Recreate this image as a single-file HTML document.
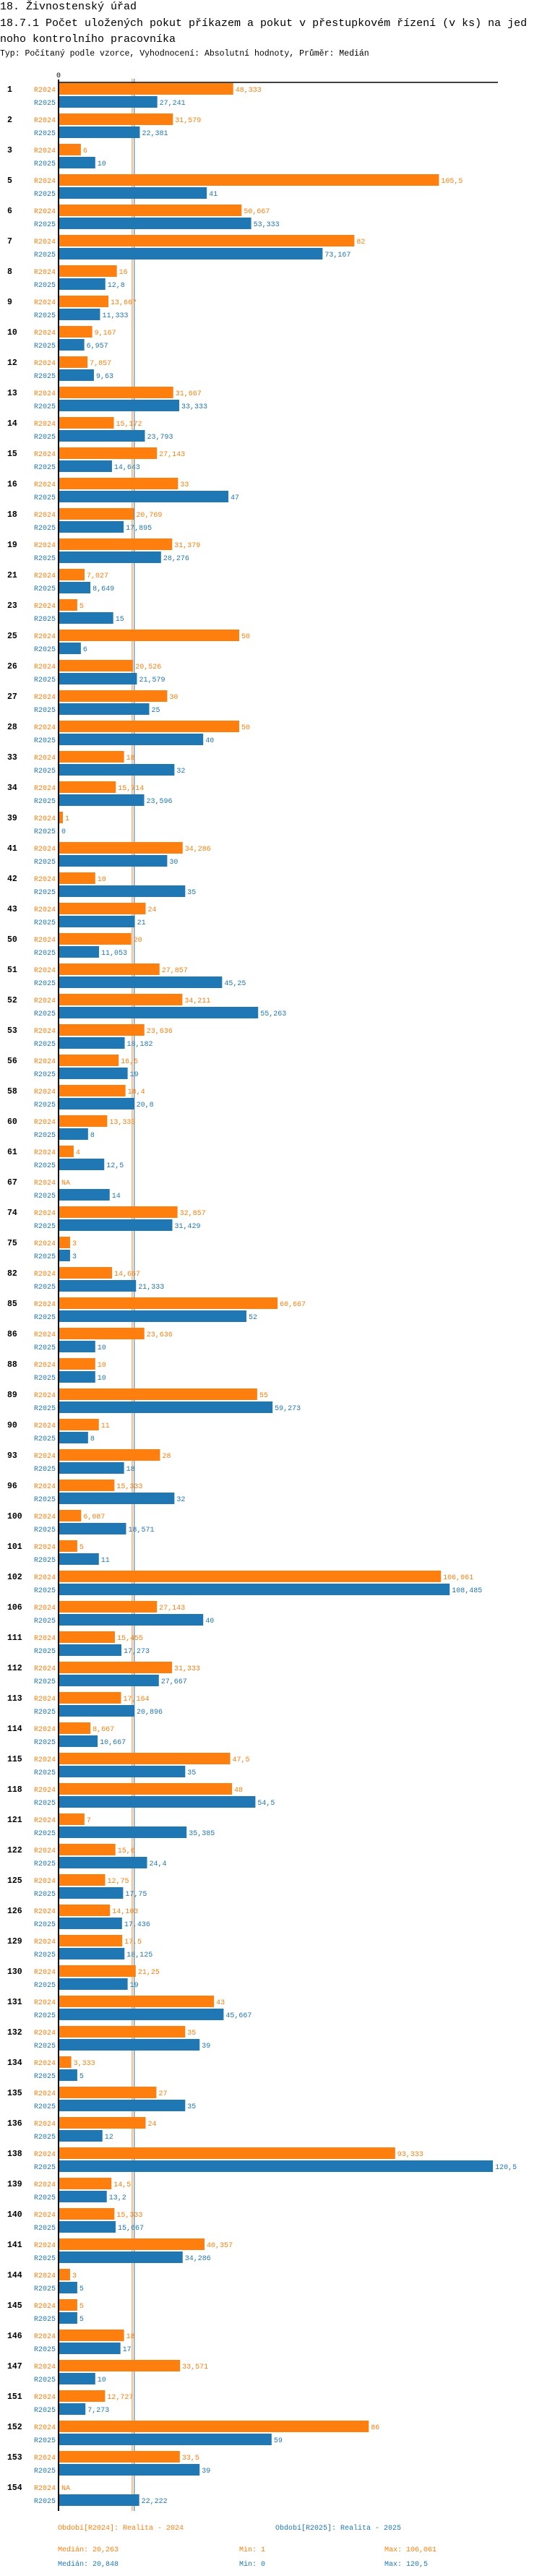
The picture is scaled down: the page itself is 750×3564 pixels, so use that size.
<!DOCTYPE html>
<html><head><meta charset="utf-8"><title>18.7.1</title>
<style>
html,body{margin:0;padding:0;background:#fff;}
svg{display:block;font-family:"Liberation Mono","DejaVu Sans Mono",monospace;}
</style></head>
<body>
<svg id="chart" width="750" height="3564" viewBox="0 0 750 3564" xmlns="http://www.w3.org/2000/svg">
<text x="0" y="13" font-size="15" fill="#000">18. Živnostenský úřad</text>
<text x="0" y="36" font-size="15" fill="#000">18.7.1 Počet uložených pokut příkazem a pokut v přestupkovém řízení (v ks) na jed</text>
<text x="0" y="58" font-size="15" fill="#000">noho kontrolního pracovníka</text>
<text x="0" y="77" font-size="11.5" fill="#000">Typ: Počítaný podle vzorce, Vyhodnocení: Absolutní hodnoty, Průměr: Medián</text>
<g id="plot"></g>
<g id="legend">
<text x="80" y="3500" font-size="10" fill="#ff7f0e">Období[R2024]: Realita - 2024</text>
<text x="381" y="3500" font-size="10" fill="#1f77b4">Období[R2025]: Realita - 2025</text>
<text x="80" y="3530" font-size="10" fill="#ff7f0e">Medián: 20,263</text>
<text x="331" y="3530" font-size="10" fill="#ff7f0e">Min: 1</text>
<text x="532" y="3530" font-size="10" fill="#ff7f0e">Max: 106,061</text>
<text x="80" y="3550" font-size="10" fill="#1f77b4">Medián: 20,848</text>
<text x="331" y="3550" font-size="10" fill="#1f77b4">Min: 0</text>
<text x="532" y="3550" font-size="10" fill="#1f77b4">Max: 120,5</text>
</g>
</svg>
<script>
const categories = [1,2,3,5,6,7,8,9,10,12,13,14,15,16,18,19,21,23,25,26,27,28,33,34,39,41,42,43,50,51,52,53,56,58,60,61,67,74,75,82,85,86,88,89,90,93,96,100,101,102,106,111,112,113,114,115,118,121,122,125,126,129,130,131,132,134,135,136,138,139,140,141,144,145,146,147,151,152,153,154];
const values2024 = [48.333,31.579,6,105.5,50.667,82,16,13.667,9.167,7.857,31.667,15.172,27.143,33,20.769,31.379,7.027,5,50,20.526,30,50,18,15.714,1,34.286,10,24,20,27.857,34.211,23.636,16.5,18.4,13.333,4,null,32.857,3,14.667,60.667,23.636,10,55,11,28,15.333,6.087,5,106.061,27.143,15.455,31.333,17.164,8.667,47.5,48,7,15.6,12.75,14.103,17.5,21.25,43,35,3.333,27,24,93.333,14.5,15.333,40.357,3,5,18,33.571,12.727,86,33.5,null];
const values2025 = [27.241,22.381,10,41,53.333,73.167,12.8,11.333,6.957,9.63,33.333,23.793,14.643,47,17.895,28.276,8.649,15,6,21.579,25,40,32,23.596,0,30,35,21,11.053,45.25,55.263,18.182,19,20.8,8,12.5,14,31.429,3,21.333,52,10,10,59.273,8,18,32,18.571,11,108.485,40,17.273,27.667,20.896,10.667,35,54.5,35.385,24.4,17.75,17.436,18.125,19,45.667,39,5,35,12,120.5,13.2,15.667,34.286,5,5,17,10,7.273,59,39,22.222];
const seriesNames = ["R2024","R2025"];
const axisTickLabels = ["0"];

const NS = "http://www.w3.org/2000/svg";
const plot = document.getElementById("plot");
const X0 = 82, PX = 4.98, TOP = 115, PITCH = 42, BH = 16;
const COLORS = ["#ff7f0e", "#1f77b4"];
function xScale(v){ return X0 + v * PX; }
function yScale(i){ return TOP + i * PITCH; }
function fmt(v){ return String(v).replace(".", ","); }
function median(a){ const s = a.filter(v => v !== null).slice().sort((p,q)=>p-q); const n = s.length; return n % 2 ? s[(n-1)/2] : (s[n/2-1] + s[n/2]) / 2; }
function mk(tag, attrs, txt){ const e = document.createElementNS(NS, tag); for (const k in attrs) e.setAttribute(k, attrs[k]); if (txt !== undefined) e.textContent = txt; plot.appendChild(e); return e; }

// median lines
const med = [median(values2024), median(values2025)];
med.forEach((m, s) => {
  const ln = mk("line", {x1: xScale(m), x2: xScale(m), y1: 109, y2: 3474, stroke: COLORS[s], "stroke-width": 1});
  
  
});

// axes
const tick = mk("text", {x: 81, y: 107, "font-size": 10, "text-anchor": "middle", fill: "#000"}, axisTickLabels[0]);


const hAxis = mk("line", {x1: 80, x2: 689, y1: 114, y2: 114, stroke: "#000", "stroke-width": 1.5});


const vAxis = mk("line", {x1: 81, x2: 81, y1: 110, y2: 3474, stroke: "#000", "stroke-width": 2});



categories.forEach((c, i) => {
  const gy = yScale(i);
  const lab = mk("text", {x: 10, y: gy + 12, "font-size": 11.5, "font-weight": "bold", fill: "#000"}, String(c));
  
  
  [values2024, values2025].forEach((arr, s) => {
    const v = arr[i];
    const y = gy + s * 18;
    const sl = mk("text", {x: 77, y: y + 12, "font-size": 10, "text-anchor": "end", fill: COLORS[s]}, seriesNames[s]);
    
    
    let endX = X0;
    if (v !== null && v > 0) {
      const r = mk("rect", {x: X0, y: y, width: xScale(v) - X0, height: BH, fill: COLORS[s]});
      
      
      endX = xScale(v);
    }
    const vt = mk("text", {x: endX + 3, y: y + 12, "font-size": 10, fill: COLORS[s]}, v === null ? "NA" : fmt(v));
    
    
  });
});
</script>
</body></html>
